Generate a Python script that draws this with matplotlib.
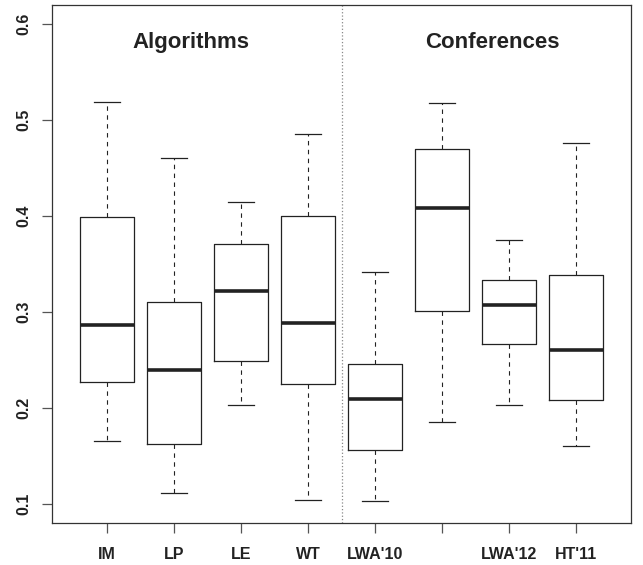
#! /usr/bin/env python
# -*- coding: utf-8 -*-

import matplotlib
matplotlib.use("Agg")
import matplotlib.pyplot as plt

# box statistics
labels = ["IM", "LP", "LE", "WT", "LWA'10", "", "LWA'12", "HT'11"]
whislo = [0.165, 0.111, 0.203, 0.1035, 0.103, 0.185, 0.203, 0.160]
q1 = [0.227, 0.162, 0.249, 0.225, 0.156, 0.3005, 0.267, 0.208]
med = [0.286, 0.239, 0.322, 0.289, 0.209, 0.408, 0.307, 0.260]
q3 = [0.399, 0.310, 0.371, 0.400, 0.2455, 0.470, 0.333, 0.3385]
whishi = [0.519, 0.461, 0.415, 0.486, 0.342, 0.518, 0.375, 0.476]

yticks = [0.1, 0.2, 0.3, 0.4, 0.5, 0.6]


def main():
    plt.rcParams['font.family'] = ['Liberation Sans', 'DejaVu Sans']

    fig = plt.figure(figsize=(6.43, 5.65), dpi=100)
    ax = fig.add_axes([52/643, 42/565, 579/643, 518/565])

    stats = []
    for i in range(len(labels)):
        stats.append(dict(whislo=whislo[i], q1=q1[i], med=med[i], q3=q3[i],
                          whishi=whishi[i], fliers=[], label=labels[i]))

    ax.bxp(stats, positions=range(1, len(labels) + 1), widths=0.8,
           showfliers=False,
           boxprops=dict(color='#222222', linewidth=0.9),
           medianprops=dict(color='#222222', linewidth=2.6, solid_capstyle='butt'),
           whiskerprops=dict(color='#222222', linewidth=0.8, linestyle=(0, (4, 4))),
           capprops=dict(color='#222222', linewidth=0.9),
           capwidths=0.4)

    # separator between the two groups
    ax.axvline(4.5, color='#888888', linestyle=':', linewidth=0.9)

    ax.text(2.25, 0.581, 'Algorithms', ha='center', va='center',
            fontsize=16, fontweight='bold', color='#222222')
    ax.text(6.75, 0.581, 'Conferences', ha='center', va='center',
            fontsize=16, fontweight='bold', color='#222222')

    ax.set_xlim(0.18, 8.82)
    ax.set_ylim(0.08, 0.62)
    ax.set_yticks(yticks)
    ax.set_yticklabels([str(v) for v in yticks], rotation=90, va='center',
                       fontweight='bold', fontsize=11.5, color='#222222')
    ax.set_xticklabels(labels, fontweight='bold', fontsize=11.5, color='#222222')

    ax.tick_params(axis='x', length=7.2, width=0.9, color='#555555', pad=10)
    ax.tick_params(axis='y', length=7.2, width=0.9, color='#555555', pad=8)
    for sp in ax.spines.values():
        sp.set_color('#333333')
        sp.set_linewidth(0.9)

    fig.savefig('out.png', dpi=100)


if __name__ == "__main__":
    main()
